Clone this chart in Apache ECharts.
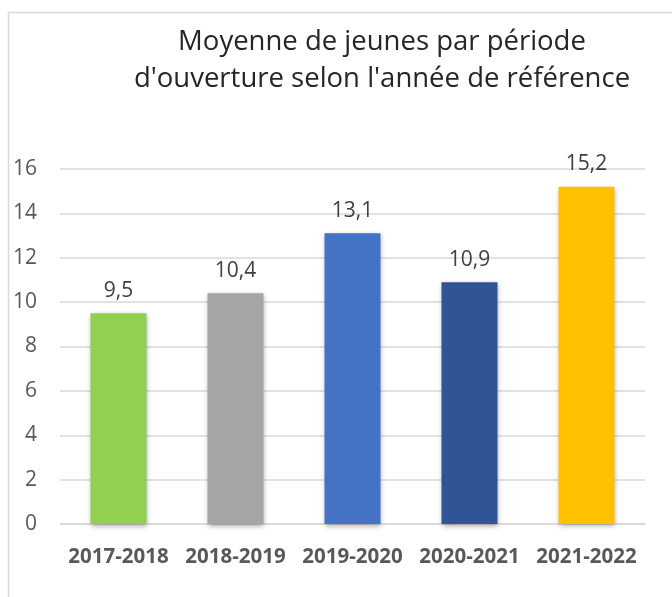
<!DOCTYPE html>
<html>
<head>
<meta charset="utf-8">
<script src="https://cdn.jsdelivr.net/npm/echarts@6/dist/echarts.min.js"></script>
<style>
  html, body { margin: 0; padding: 0; background: #fff; }
  #chart { width: 672px; height: 597px; }
</style>
</head>
<body>
<div id="chart"></div>
<script>
// données
const periodes = ['2017-2018', '2018-2019', '2019-2020', '2020-2021', '2021-2022'];
const moyennes = [9.5, 10.4, 13.1, 10.9, 15.2];
const couleurs = ['#92D050', '#A5A5A5', '#4472C4', '#2F5597', '#FFC000'];
const yTicks = [0, 2, 4, 6, 8, 10, 12, 14, 16];

(function () {
    let myChart = echarts.init(document.getElementById('chart'));
    let option = {
        animation: false,
        title: {
            text: "Moyenne de jeunes par période\nd'ouverture selon l'année de référence",
            left: 377,
            top: 19,
            textAlign: 'center',
            textStyle: {
                fontFamily: 'Open Sans',
                fontWeight: 'normal',
                fontSize: 27.5,
                lineHeight: 37,
                color: '#262626'
            }
        },
        // cadre gris clair
        graphic: [{
            type: 'rect',
            shape: { x: 8.5, y: 12.5, width: 800, height: 800 },
            style: { fill: 'none', stroke: '#d9d9d9', lineWidth: 1.5 },
            silent: true
        }],
        grid: {
            left: 60,
            right: 27,
            top: 169,
            bottom: 73
        },
        xAxis: {
            type: 'category',
            data: periodes,
            axisTick: { show: false },
            axisLine: { lineStyle: { color: '#d9d9d9', width: 1.5 } },
            axisLabel: {
                interval: 0,
                margin: 23,
                fontFamily: 'Open Sans',
                fontWeight: 'bold',
                fontSize: 20.5,
                color: '#595959'
            }
        },
        yAxis: {
            type: 'value',
            min: yTicks[0],
            max: yTicks[yTicks.length - 1],
            interval: 2,
            axisLine: { show: false },
            axisTick: { show: false },
            splitLine: { lineStyle: { color: '#d9d9d9', width: 1.5 } },
            axisLabel: {
                margin: 23,
                fontFamily: 'Open Sans',
                fontSize: 21,
                color: '#595959'
            }
        },
        series: [{
            type: 'bar',
            barWidth: 56,
            data: moyennes.map(function (v, i) {
                return { value: v, itemStyle: { color: couleurs[i] } };
            }),
            itemStyle: {
                shadowBlur: 5,
                shadowColor: 'rgba(0,0,0,0.35)',
                shadowOffsetY: 2
            },
            label: {
                show: true,
                position: 'top',
                distance: 12,
                fontFamily: 'Open Sans',
                fontSize: 21,
                color: '#404040',
                formatter: function (p) {
                    return p.value.toFixed(1).replace('.', ',');
                }
            }
        }]
    };
    myChart.setOption(option);
    window.addEventListener('resize', function () {
        myChart.resize();
    });
})();
</script>
</body>
</html>
